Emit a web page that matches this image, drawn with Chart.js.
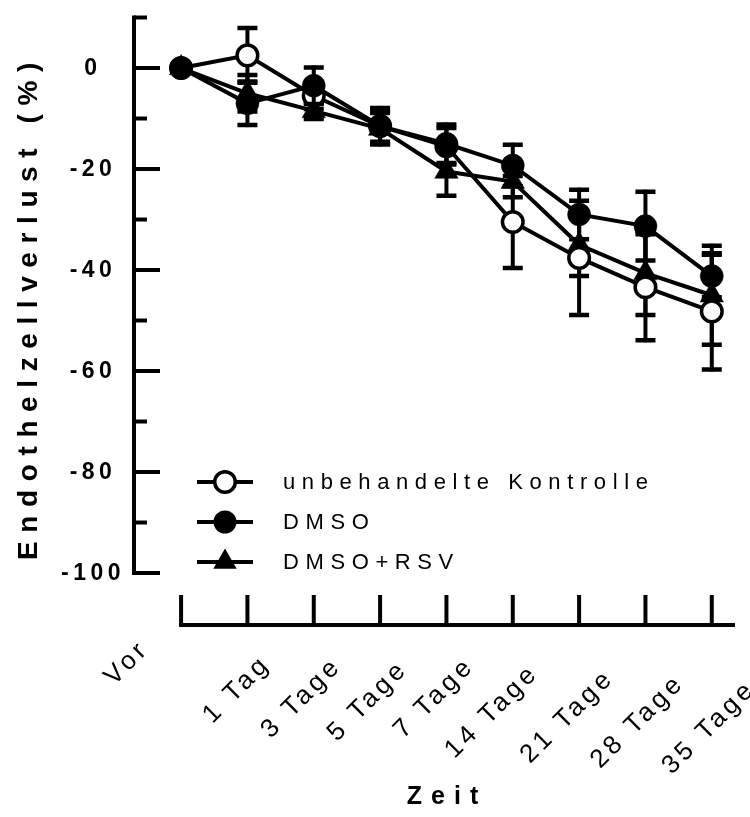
<!DOCTYPE html>
<html><head><meta charset="utf-8">
<script src="https://cdn.jsdelivr.net/npm/chart.js@4/dist/chart.umd.min.js"></script>
<style>html,body{margin:0;padding:0;background:#fff;}#wrap{width:750px;height:817px;position:relative;}canvas{display:block;}</style>
</head><body><div id="wrap"><canvas id="c" width="750" height="817"></canvas></div>
<script>
// ---- data ----
const categories = ['Vor','1 Tag','3 Tage','5 Tage','7 Tage','14 Tage','21 Tage','28 Tage','35 Tage'];
const seriesNames = ['unbehandelte Kontrolle','DMSO','DMSO+RSV'];
const kontrolleMean = [0, 2.5, -5.5, -11.5, -15.5, -30.5, -37.6, -43.4, -48.2];
const kontrolleSD   = [0, 5.8,  3.0,   3.5,   4.0,   9.5,  11.7,  10.9,  11.9];
const dmsoMean      = [0, -7.0, -3.5, -11.5, -15.0, -19.3, -29.0, -31.3, -41.2];
const dmsoSD        = [0, 4.7,  4.0,   4.0,   4.2,   4.5,   5.3,   7.2,   4.6];
const rsvMean       = [0, -5.0, -8.5, -12.0, -20.5, -22.5, -35.0, -40.6, -45.0];
const rsvSD         = [0, 4.0,  2.0,   3.5,   5.2,   3.5,   6.6,   8.7,  10.2];
const yTickValues = [0, -20, -40, -60, -80, -100];
const yMinorValues = [10, -10, -30, -50, -70, -90];
const yAxisTitle = 'Endothelzellverlust (%)';
const xAxisTitle = 'Zeit';

const FONT = "'Liberation Sans', Arial, Helvetica, sans-serif";
const toPts = arr => arr.map((v, i) => ({x: i, y: v}));

function setSpacing(ctx, px){ if ('letterSpacing' in ctx) ctx.letterSpacing = px + 'px'; }

function drawMarker(ctx, style, x, y){
  ctx.save();
  ctx.fillStyle = '#000'; ctx.strokeStyle = '#000';
  if (style === 'open') {
    ctx.beginPath(); ctx.arc(x, y, 10.3, 0, Math.PI*2);
    ctx.fillStyle = '#fff'; ctx.fill(); ctx.lineWidth = 3.5; ctx.stroke();
  } else if (style === 'filled') {
    ctx.beginPath(); ctx.arc(x, y, 11.5, 0, Math.PI*2); ctx.fill();
  } else {
    const r = 13.5; let a = 0;
    ctx.beginPath();
    ctx.moveTo(x + Math.sin(a)*r, y - Math.cos(a)*r);
    a += 2*Math.PI/3; ctx.lineTo(x + Math.sin(a)*r, y - Math.cos(a)*r);
    a += 2*Math.PI/3; ctx.lineTo(x + Math.sin(a)*r, y - Math.cos(a)*r);
    ctx.closePath(); ctx.fill();
  }
  ctx.restore();
}

const errorBarPlugin = {
  id: 'errorBars',
  beforeDatasetDraw(chart, args){
    const ds = chart.data.datasets[args.index];
    const xs = chart.scales.x, ys = chart.scales.y, ctx = chart.ctx;
    ctx.save();
    ctx.strokeStyle = '#000'; ctx.lineWidth = 4; ctx.lineCap = 'butt';
    ds.data.forEach((p, i) => {
      const e = ds.errors[i]; if (!e) return;
      const x = xs.getPixelForValue(p.x);
      const yt = ys.getPixelForValue(p.y + e), yb = ys.getPixelForValue(p.y - e);
      ctx.beginPath(); ctx.moveTo(x, yt); ctx.lineTo(x, yb); ctx.stroke();
      ctx.lineWidth = 4.5;
      ctx.beginPath(); ctx.moveTo(x-10, yt+2); ctx.lineTo(x+10, yt+2);
      ctx.moveTo(x-10, yb-2); ctx.lineTo(x+10, yb-2); ctx.stroke();
      ctx.lineWidth = 4;
    });
    ctx.restore();
  }
};

// label placement relative to each tick (layout only)
const labelDx = [-36, 19, 24, 24, 24, 22, 31, 35, 40];
const labelDy = [18, 33, 35, 38, 35, 42, 47, 52, 58];

const axesPlugin = {
  id: 'axesDeco',
  afterDraw(chart){
    const ctx = chart.ctx, xs = chart.scales.x, ys = chart.scales.y, ca = chart.chartArea;
    ctx.save();
    ctx.strokeStyle = '#000'; ctx.fillStyle = '#000'; ctx.lineWidth = 4; ctx.lineCap = 'butt';
    // Y axis
    const ax = ca.left + 2;
    ctx.beginPath();
    ctx.moveTo(ax, ys.getPixelForValue(10) - 2); ctx.lineTo(ax, ys.getPixelForValue(-100) + 2); ctx.stroke();
    yTickValues.forEach(v => { const y = ys.getPixelForValue(v); ctx.beginPath(); ctx.moveTo(ax, y); ctx.lineTo(ax + 26, y); ctx.stroke(); });
    yMinorValues.forEach(v => { const y = ys.getPixelForValue(v); ctx.beginPath(); ctx.moveTo(ax, y); ctx.lineTo(ax + 13, y); ctx.stroke(); });
    // Y tick labels
    ctx.font = 'bold 23px ' + FONT; setSpacing(ctx, 4.5);
    ctx.textAlign = 'center'; ctx.textBaseline = 'middle';
    yTickValues.forEach(v => { ctx.fillText(String(v), 93, ys.getPixelForValue(v) + 1); });
    // X axis
    const ay = ca.bottom - 2;
    ctx.beginPath(); ctx.moveTo(xs.getPixelForValue(0) - 2, ay); ctx.lineTo(ca.right, ay); ctx.stroke();
    categories.forEach((c, i) => { const x = xs.getPixelForValue(i); ctx.beginPath(); ctx.moveTo(x, ay); ctx.lineTo(x, ay - 30); ctx.stroke(); });
    // X tick labels (rotated)
    ctx.font = '26px ' + FONT; setSpacing(ctx, 4);
    ctx.textAlign = 'right'; ctx.textBaseline = 'middle';
    categories.forEach((c, i) => {
      const x = xs.getPixelForValue(i);
      ctx.save();
      ctx.translate(x + labelDx[i], ay + 2 + labelDy[i]);
      ctx.rotate(-Math.PI/4);
      ctx.fillText(c, 0, 0);
      ctx.restore();
    });
    // axis titles
    ctx.font = 'bold 25px ' + FONT; setSpacing(ctx, 9);
    ctx.textAlign = 'center'; ctx.textBaseline = 'middle';
    ctx.fillText(xAxisTitle, 447, 797);
    ctx.save();
    ctx.translate(29, 307); ctx.rotate(-Math.PI/2);
    ctx.font = 'bold 28px ' + FONT; setSpacing(ctx, 8.6);
    ctx.fillText(yAxisTitle, 0, 0);
    ctx.restore();
    // legend
    const styles = ['open', 'filled', 'tri'];
    const rows = [482, 522, 562];
    seriesNames.forEach((n, k) => {
      const y = rows[k];
      ctx.lineWidth = 4;
      ctx.beginPath(); ctx.moveTo(197, y); ctx.lineTo(253, y); ctx.stroke();
      drawMarker(ctx, styles[k], 225, y);
      ctx.fillStyle = '#000';
      ctx.font = '22px ' + FONT; setSpacing(ctx, 6.6);
      ctx.textAlign = 'left'; ctx.textBaseline = 'middle';
      ctx.fillText(n, 283, y + 1);
    });
    ctx.restore();
  }
};

const ds = (label, mean, sd, style, order) => ({
  label, data: toPts(mean), errors: sd, order,
  borderColor: '#000', borderWidth: 4, tension: 0, fill: false,
  pointStyle: style === 'tri' ? 'triangle' : 'circle',
  pointRadius: style === 'tri' ? 13.5 : (style === 'open' ? 10.3 : 11.5),
  pointHoverRadius: style === 'tri' ? 13.5 : 11.5,
  pointBackgroundColor: style === 'open' ? '#fff' : '#000',
  pointBorderColor: '#000',
  pointBorderWidth: style === 'open' ? 3.5 : 0.5
});

new Chart(document.getElementById('c'), {
  type: 'line',
  data: {
    datasets: [
      ds(seriesNames[0], kontrolleMean, kontrolleSD, 'open', 1),
      ds(seriesNames[1], dmsoMean, dmsoSD, 'filled', 0),
      ds(seriesNames[2], rsvMean, rsvSD, 'tri', 2)
    ]
  },
  options: {
    responsive: false, animation: false,
    layout: { padding: { left: 132, right: 14, top: 17, bottom: 190 } },
    scales: {
      x: { type: 'linear', min: -0.74, max: 8.35, display: false },
      y: { type: 'linear', min: -110.69, max: 10.1, display: false }
    },
    plugins: { legend: { display: false }, tooltip: { enabled: false } },
    events: []
  },
  plugins: [errorBarPlugin, axesPlugin]
});
</script>
</body></html>
